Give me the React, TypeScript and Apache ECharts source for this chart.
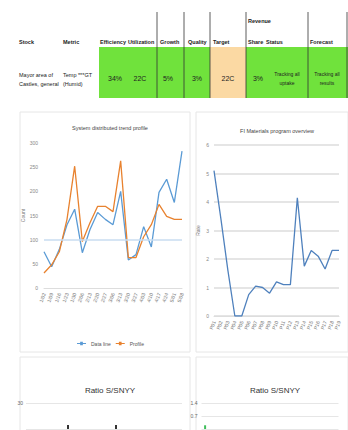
import React, { useEffect, useRef } from "react";
import * as echarts from "echarts";

// ---------- data ----------
const headerLabels = ["Stock", "Metric", "Efficiency", "Utilization", "Growth", "Quality", "Target", "Share", "Status", "Forecast"];
const headerTopLabel = "Revenue";
const rowLeft1 = ["Mayor area of", "Castles, general"];
const rowLeft2 = ["Temp ***GT", "(Humid)"];
const cellValues = ["34%", "22C", "5%", "3%", "22C", "3%"];
const cellNotes1 = ["Tracking all", "uptake"];
const cellNotes2 = ["Tracking all", "results"];

const leftTitle = "System distributed trend profile";
const rightTitle = "FI Materials program overview";
const bottomTitle = "Ratio S/SNYY";
const legendNames = ["Data line", "Profile"];

const leftCats = ["1/02", "1/09", "1/16", "1/23", "1/30", "2/06", "2/13", "2/20", "2/27", "3/06", "3/13", "3/20", "3/27", "4/03", "4/10", "4/17", "4/24", "5/01", "5/08"];
const blueVals = [75, 44, 80, 131, 163, 73, 121, 156, 142, 131, 200, 58, 69, 127, 85, 198, 225, 177, 283];
const orangeVals = [31, 48, 75, 142, 252, 96, 135, 169, 169, 158, 263, 63, 63, 106, 131, 173, 148, 142, 142];
const targetValue = 100;

const rightCats = ["P01", "P02", "P03", "P04", "P05", "P06", "P07", "P08", "P09", "P10", "P11", "P12", "P13", "P14", "P15", "P16", "P17", "P18", "P19"];
const rightVals = [5.1, 3.4, 1.6, 0, 0, 0.75, 1.05, 1.0, 0.8, 1.2, 1.1, 1.1, 4.15, 1.75, 2.3, 2.1, 1.65, 2.3, 2.3];

const bl = ["a", "b", "c", "d", "e", "f", "g", "h", "i", "j", "k", "l", "m"];
const blVals = [null, null, null, 4.6, null, null, null, 4.6, null, null, null, null, null];
const brVals = [0.2, null, null, null, null, null, null, null, null, null, null, null, null, null, null, null, null, null, null];

// ---------- component ----------
export default function App() {
  const ref = useRef<HTMLDivElement>(null);
  useEffect(() => {
    if (!ref.current) return;
    const chart = echarts.init(ref.current, null, { renderer: "svg" });
    const font = "Liberation Sans";
    const txt = (text: string, x: number, y: number, opts: any = {}) => ({
      type: "text",
      x,
      y,
      style: {
        text,
        fontSize: opts.fontSize ?? 5.5,
        fontWeight: opts.fontWeight ?? "normal",
        fontFamily: font,
        fill: opts.fill ?? "#222",
        align: opts.align ?? "left",
        verticalAlign: "middle",
      },
      z: 10,
    });
    const headerX = [19, 63, 100, 128, 160, 188, 213, 248, 266, 310];
    const cellX = [115, 140, 168, 197, 228, 258];
    const graphic: any[] = [
      { type: "rect", shape: { x: 99, y: 47, width: 249, height: 51 }, style: { fill: "#70E23C" } },
      { type: "rect", shape: { x: 210, y: 47, width: 36, height: 51 }, style: { fill: "#FBD9A3" } },
      ...[157, 184, 210, 246, 308, 347].map((x) => ({
        type: "line",
        shape: { x1: x, y1: 12, x2: x, y2: 98 },
        style: { stroke: "#333", lineWidth: 0.8 },
        z: 5,
      })),
      ...headerLabels.map((t, i) => txt(t, headerX[i], 42, { fontWeight: "bold" })),
      txt(headerTopLabel, 248, 21, { fontWeight: "bold" }),
      txt(rowLeft1[0], 19, 75),
      txt(rowLeft1[1], 19, 84),
      txt(rowLeft2[0], 63, 75),
      txt(rowLeft2[1], 63, 84),
      ...cellValues.map((t, i) => txt(t, cellX[i], 78, { fontSize: 7, align: "center" })),
      txt(cellNotes1[0], 287, 74, { align: "center", fontSize: 5 }),
      txt(cellNotes1[1], 287, 83, { align: "center", fontSize: 5 }),
      txt(cellNotes2[0], 327, 74, { align: "center", fontSize: 5 }),
      txt(cellNotes2[1], 327, 83, { align: "center", fontSize: 5 }),
      { type: "rect", shape: { x: 20, y: 112, width: 170, height: 240 }, style: { fill: "none", stroke: "#e6e6e6", lineWidth: 1 } },
      { type: "rect", shape: { x: 196, y: 112, width: 152, height: 240 }, style: { fill: "none", stroke: "#e6e6e6", lineWidth: 1 } },
      { type: "rect", shape: { x: 20, y: 357, width: 170, height: 80 }, style: { fill: "none", stroke: "#e6e6e6", lineWidth: 1 } },
      { type: "rect", shape: { x: 196, y: 357, width: 152, height: 80 }, style: { fill: "none", stroke: "#e6e6e6", lineWidth: 1 } },
    ];

    const catAxis = (gridIndex: number, data: string[]) => ({
      type: "category",
      gridIndex,
      data,
      boundaryGap: false,
      axisLine: { show: true, lineStyle: { color: "#ddd" } },
      axisTick: { show: false },
      axisLabel: { rotate: 70, fontSize: 5, color: "#777", fontFamily: font, interval: 0, margin: 5 },
    });

    const option: any = {
      animation: false,
      textStyle: { fontFamily: font },
      title: [
        { text: leftTitle, left: 105, top: 120, textAlign: "center", textStyle: { fontSize: 5.5, fontWeight: "normal", color: "#444" } },
        { text: rightTitle, left: 272, top: 123, textAlign: "center", textStyle: { fontSize: 5.5, fontWeight: "normal", color: "#444" } },
        { text: bottomTitle, left: 105, top: 381, textAlign: "center", textStyle: { fontSize: 8, fontWeight: "normal", color: "#333" } },
        { text: bottomTitle, left: 270, top: 381, textAlign: "center", textStyle: { fontSize: 8, fontWeight: "normal", color: "#333" } },
      ],
      legend: {
        data: legendNames,
        left: 72,
        top: 336,
        itemWidth: 9,
        itemHeight: 4,
        itemGap: 5,
        textStyle: { fontSize: 5, color: "#555" },
        icon: "path://M0,2 L10,2 L10,3 L0,3 Z M3.5,0.5 h3 v4 h-3 Z",
      },
      grid: [
        { left: 44, right: 166, top: 143, bottom: 142 },
        { left: 214, right: 9, top: 145, bottom: 114 },
        { left: 26, width: 156, top: 403, height: 26 },
        { left: 201.5, width: 137, top: 403, height: 26 },
      ],
      xAxis: [
        catAxis(0, leftCats),
        catAxis(1, rightCats),
        { type: "category", gridIndex: 2, data: bl, show: false },
        { type: "category", gridIndex: 3, data: rightCats, show: false },
      ],
      yAxis: [
        {
          type: "value", gridIndex: 0, min: 0, max: 300, interval: 50,
          name: "Count", nameLocation: "middle", nameGap: 15, nameRotate: 90,
          nameTextStyle: { fontSize: 5, color: "#777" },
          axisLabel: { fontSize: 5, color: "#888", margin: 6 },
          splitLine: { show: false }, axisLine: { show: false }, axisTick: { show: false },
        },
        {
          type: "value", gridIndex: 1, min: 0, max: 6, interval: 1,
          name: "Rate", nameLocation: "middle", nameGap: 14, nameRotate: 90,
          nameTextStyle: { fontSize: 5, color: "#777" },
          axisLabel: { fontSize: 5, color: "#888", margin: 5 },
          splitLine: { show: true, lineStyle: { color: "#dcdcdc", width: 1.5 } },
          axisLine: { show: false }, axisTick: { show: false },
        },
        {
          type: "value", gridIndex: 2, min: 0, max: 30, interval: 30,
          axisLabel: { fontSize: 5, color: "#666", margin: 3, showMinLabel: false },
          splitLine: { lineStyle: { color: "#e6e6e6" } }, axisLine: { show: false }, axisTick: { show: false },
        },
        {
          type: "value", gridIndex: 3, min: 0, max: 1.4, interval: 0.7,
          axisLabel: { fontSize: 5, color: "#666", margin: 4, showMinLabel: false },
          splitLine: { lineStyle: { color: "#e6e6e6" } }, axisLine: { show: false }, axisTick: { show: false },
        },
      ],
      series: [
        {
          name: legendNames[0], type: "line", xAxisIndex: 0, yAxisIndex: 0, data: blueVals,
          symbol: "none", lineStyle: { color: "#5B9BD5", width: 1.3 }, itemStyle: { color: "#5B9BD5" },
          markLine: {
            silent: true, symbol: "none", label: { show: false },
            lineStyle: { color: "#C9DDF0", width: 1.5, type: "solid" },
            data: [{ yAxis: targetValue }],
          },
        },
        {
          name: legendNames[1], type: "line", xAxisIndex: 0, yAxisIndex: 0, data: orangeVals,
          symbol: "none", lineStyle: { color: "#E8822F", width: 1.3 }, itemStyle: { color: "#E8822F" },
        },
        {
          name: "rate", type: "line", xAxisIndex: 1, yAxisIndex: 1, data: rightVals,
          symbol: "none", lineStyle: { color: "#4F81BD", width: 1.3 },
        },
        {
          name: "b1", type: "bar", xAxisIndex: 2, yAxisIndex: 2, data: blVals, barWidth: 2,
          itemStyle: { color: "#333" },
        },
        {
          name: "b2", type: "bar", xAxisIndex: 3, yAxisIndex: 3, data: brVals, barWidth: 2,
          itemStyle: { color: "#3DBE5A" },
        },
      ],
      graphic,
    };
    chart.setOption(option);
    return () => chart.dispose();
  }, []);
  return (
    <div
      ref={ref}
      style={{ position: "fixed", left: 0, top: 0, width: 348, height: 430, background: "#fff" }}
    />
  );
}
